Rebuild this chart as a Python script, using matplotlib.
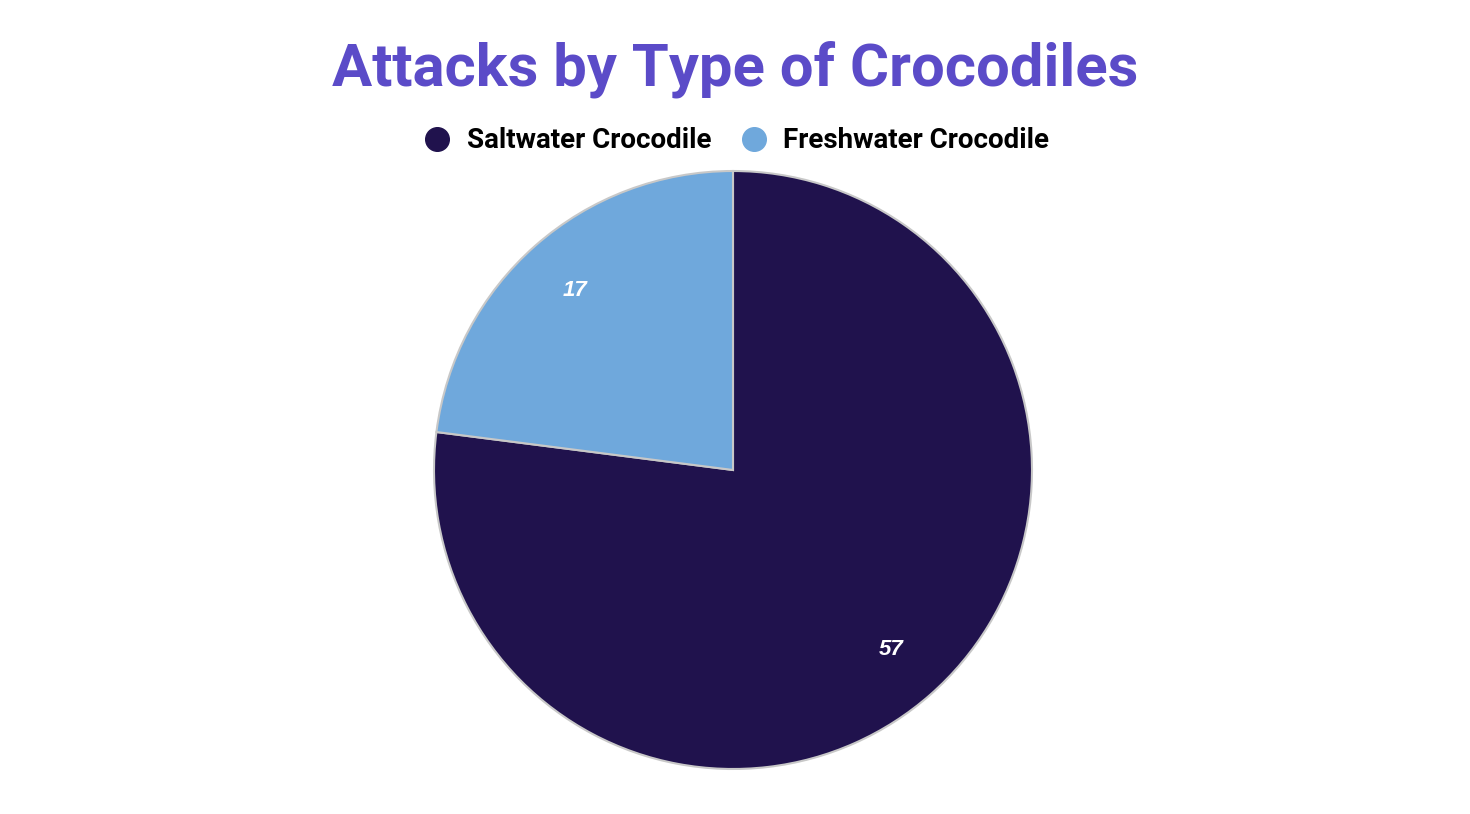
import matplotlib.pyplot as plt
from matplotlib.lines import Line2D
import numpy as np

# crocodile attack counts
types = ['Saltwater Crocodile', 'Freshwater Crocodile']
attacks = [57, 17]
colours = ['#20124d', '#6fa8dc']

W, H = 1470, 814
fig = plt.figure(figsize=(W/100, H/100), dpi=100)

# pie placed by pixel geometry: centre (733,470), radius 299
cx, cy, r = 733, 470, 299
ax = fig.add_axes([(cx-r)/W, (H-cy-r)/H, 2*r/W, 2*r/H])
wedges, texts = ax.pie(attacks, colors=colours, startangle=90, counterclock=False,
                       radius=1.0, wedgeprops=dict(edgecolor='#c8c8c8', linewidth=1.5, clip_on=False))
ax.set_xlim(-1, 1)
ax.set_ylim(-1, 1)
ax.set_aspect('equal')
ax.axis('off')

# value labels inside the wedges
total = sum(attacks)
start = 90.0
for v in attacks:
    ang = start - 360.0*v/total/2
    start -= 360.0*v/total
    x = 0.8*np.cos(np.radians(ang))
    y = 0.8*np.sin(np.radians(ang))
    ax.text(x, y, str(v), ha='center', va='center', color='white',
            fontsize=16, fontweight='bold', fontstyle='italic', family='Liberation Sans')

fig.text(0.5, 1 - 69/H, 'Attacks by Type of Crocodiles', ha='center', va='center',
         color='#5b4bc8', fontsize=43, fontweight='bold', family='Roboto')

handles = [Line2D([], [], marker='o', linestyle='', markersize=17, color=c) for c in colours]
fig.legend(handles, types, loc='center', bbox_to_anchor=(0.5, 1 - 141/H), ncol=2,
           frameon=False, prop=dict(family='Roboto', weight='bold', size=20),
           handletextpad=0.45, columnspacing=0.95, handlelength=1.2)

fig.savefig('out.png', dpi=100)
